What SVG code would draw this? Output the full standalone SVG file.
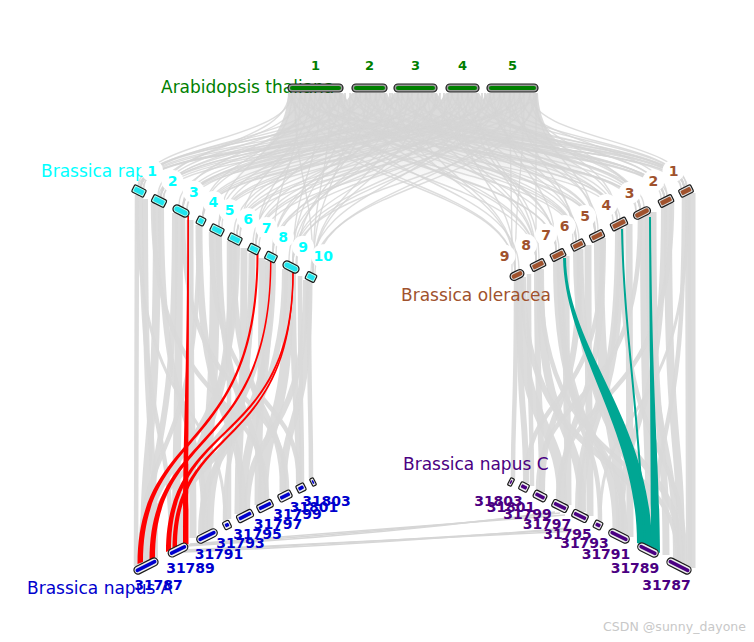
<svg xmlns="http://www.w3.org/2000/svg" width="754" height="642" viewBox="0 0 754 642">
<style>
.lk{fill:none;stroke:#d4d4d4;stroke-width:1.4;opacity:.8}
.rb{fill:none;stroke:#d9d9d9;opacity:.92}
.ab{fill:none;stroke:#d6d6d6;stroke-width:1.5}
.o{stroke:#1a1a1a;stroke-width:1.2}
.at{fill:#008000}
.ra{fill:#1fe3ee}
.ol{fill:#a0522d}
.na{fill:#0000cd}
.nc{fill:#4b0082}
text{font-family:"DejaVu Sans","Liberation Sans",sans-serif}
.t{font-size:17px}
.n{font-size:14px;font-weight:bold;text-anchor:middle}
.an{font-size:13px;font-weight:bold;text-anchor:middle;fill:#008000}
.halo{fill:#fff}
</style>
<defs>
<linearGradient id="fade" x1="0" y1="93" x2="0" y2="185" gradientUnits="userSpaceOnUse">
<stop offset="0" stop-color="#d9d9d9" stop-opacity="1"/>
<stop offset="0.45" stop-color="#d9d9d9" stop-opacity="0.9"/>
<stop offset="1" stop-color="#d9d9d9" stop-opacity="0"/>
</linearGradient>
</defs>
<rect width="754" height="642" fill="#fff"/>

<g id="connectors">
<path d="M288 93 L343 93 L347 100 L352 93 L387 93 L390 100 L394 93 L437 93 L441 100 L446 93 L479 93 L483 100 L487 93 L538 93 C539 125 555 150 600 185 L225 185 C270 150 287 125 288 93 Z" fill="url(#fade)"/>
<g id="at-rapa">
<path class="lk" d="M292 93C292 140 141 140 141 187"/>
<path class="lk" d="M292 93C292 160 219 160 219 226"/>
<path class="lk" d="M300 93C300 145 158 145 158 196"/>
<path class="lk" d="M300 93C300 173 273 173 273 253"/>
<path class="lk" d="M310 93C310 150 183 150 183 207"/>
<path class="lk" d="M310 93C310 165 240 165 240 236"/>
<path class="lk" d="M320 93C320 141 144 141 144 188"/>
<path class="lk" d="M320 93C320 178 293 178 293 263"/>
<path class="lk" d="M330 93C330 155 203 155 203 217"/>
<path class="lk" d="M330 93C330 183 313 183 313 273"/>
<path class="lk" d="M340 93C340 146 164 146 164 198"/>
<path class="lk" d="M340 93C340 169 256 169 256 245"/>
<path class="lk" d="M356 93C356 149 179 149 179 205"/>
<path class="lk" d="M356 93C356 160 222 160 222 227"/>
<path class="lk" d="M366 93C366 140 138 140 138 186"/>
<path class="lk" d="M366 93C366 179 297 179 297 265"/>
<path class="lk" d="M376 93C376 164 234 164 234 234"/>
<path class="lk" d="M376 93C376 145 161 145 161 197"/>
<path class="lk" d="M385 93C385 173 273 173 273 253"/>
<path class="lk" d="M385 93C385 151 187 151 187 209"/>
<path class="lk" d="M398 93C398 140 141 140 141 187"/>
<path class="lk" d="M398 93C398 169 253 169 253 244"/>
<path class="lk" d="M408 93C408 155 203 155 203 217"/>
<path class="lk" d="M408 93C408 177 289 177 289 261"/>
<path class="lk" d="M418 93C418 145 161 145 161 197"/>
<path class="lk" d="M418 93C418 183 313 183 313 273"/>
<path class="lk" d="M428 93C428 160 219 160 219 226"/>
<path class="lk" d="M428 93C428 150 183 150 183 207"/>
<path class="lk" d="M436 93C436 164 237 164 237 235"/>
<path class="lk" d="M436 93C436 174 276 174 276 254"/>
<path class="lk" d="M448 93C448 141 143 141 143 188"/>
<path class="lk" d="M448 93C448 178 293 178 293 263"/>
<path class="lk" d="M458 93C458 151 187 151 187 209"/>
<path class="lk" d="M458 93C458 169 256 169 256 245"/>
<path class="lk" d="M468 93C468 145 159 145 159 196"/>
<path class="lk" d="M468 93C468 183 311 183 311 272"/>
<path class="lk" d="M477 93C477 155 203 155 203 217"/>
<path class="lk" d="M477 93C477 164 237 164 237 235"/>
<path class="lk" d="M490 93C490 160 219 160 219 226"/>
<path class="lk" d="M490 93C490 179 296 179 296 264"/>
<path class="lk" d="M500 93C500 140 141 140 141 187"/>
<path class="lk" d="M500 93C500 173 273 173 273 253"/>
<path class="lk" d="M510 93C510 150 183 150 183 207"/>
<path class="lk" d="M510 93C510 184 315 184 315 274"/>
<path class="lk" d="M520 93C520 146 163 146 163 198"/>
<path class="lk" d="M520 93C520 170 259 170 259 246"/>
<path class="lk" d="M530 93C530 165 240 165 240 236"/>
<path class="lk" d="M530 93C530 155 203 155 203 217"/>
<path class="lk" d="M536 93C536 178 293 178 293 263"/>
<path class="lk" d="M536 93C536 140 139 140 139 186"/>
<path class="lk" d="M295 93C295 183 313 183 313 273"/>
<path class="lk" d="M305 93C305 155 203 155 203 217"/>
<path class="lk" d="M315 93C315 169 256 169 256 245"/>
<path class="lk" d="M325 93C325 145 161 145 161 197"/>
<path class="lk" d="M335 93C335 160 219 160 219 226"/>
<path class="lk" d="M345 93C345 178 293 178 293 263"/>
<path class="lk" d="M360 93C360 140 141 140 141 187"/>
<path class="lk" d="M370 93C370 173 273 173 273 253"/>
<path class="lk" d="M380 93C380 150 183 150 183 207"/>
<path class="lk" d="M390 93C390 164 237 164 237 235"/>
<path class="lk" d="M402 93C402 183 313 183 313 273"/>
<path class="lk" d="M412 93C412 145 161 145 161 197"/>
<path class="lk" d="M422 93C422 169 256 169 256 245"/>
<path class="lk" d="M432 93C432 140 141 140 141 187"/>
<path class="lk" d="M440 93C440 155 203 155 203 217"/>
<path class="lk" d="M452 93C452 160 219 160 219 226"/>
<path class="lk" d="M462 93C462 173 273 173 273 253"/>
<path class="lk" d="M472 93C472 150 183 150 183 207"/>
<path class="lk" d="M482 93C482 178 293 178 293 263"/>
<path class="lk" d="M494 93C494 145 161 145 161 197"/>
<path class="lk" d="M504 93C504 164 237 164 237 235"/>
<path class="lk" d="M514 93C514 155 203 155 203 217"/>
<path class="lk" d="M524 93C524 140 141 140 141 187"/>
<path class="lk" d="M534 93C534 183 313 183 313 273"/>
<path class="lk" d="M289 93C289 145 161 145 161 197"/>
<path class="lk" d="M341 93C341 140 141 140 141 187"/>
<path class="lk" d="M350 93C350 183 313 183 313 273"/>
<path class="lk" d="M392 93C392 178 293 178 293 263"/>
<path class="lk" d="M444 93C444 150 183 150 183 207"/>
<path class="lk" d="M485 93C485 169 256 169 256 245"/>
</g>
<g id="at-oleracea">
<path class="lk" d="M292 93C292 182 515 182 515 271"/>
<path class="lk" d="M292 93C292 157 617 157 617 220"/>
<path class="lk" d="M300 93C300 140 684 140 684 187"/>
<path class="lk" d="M300 93C300 167 576 167 576 241"/>
<path class="lk" d="M310 93C310 151 640 151 640 209"/>
<path class="lk" d="M310 93C310 177 536 177 536 261"/>
<path class="lk" d="M320 93C320 145 664 145 664 197"/>
<path class="lk" d="M320 93C320 172 556 172 556 251"/>
<path class="lk" d="M330 93C330 163 595 163 595 232"/>
<path class="lk" d="M330 93C330 141 681 141 681 188"/>
<path class="lk" d="M340 93C340 156 620 156 620 219"/>
<path class="lk" d="M340 93C340 181 519 181 519 269"/>
<path class="lk" d="M356 93C356 140 684 140 684 187"/>
<path class="lk" d="M356 93C356 152 636 152 636 211"/>
<path class="lk" d="M366 93C366 167 576 167 576 241"/>
<path class="lk" d="M366 93C366 145 667 145 667 196"/>
<path class="lk" d="M376 93C376 177 536 177 536 261"/>
<path class="lk" d="M376 93C376 163 595 163 595 232"/>
<path class="lk" d="M385 93C385 151 640 151 640 209"/>
<path class="lk" d="M385 93C385 172 559 172 559 250"/>
<path class="lk" d="M398 93C398 145 664 145 664 197"/>
<path class="lk" d="M398 93C398 182 515 182 515 271"/>
<path class="lk" d="M408 93C408 157 617 157 617 220"/>
<path class="lk" d="M408 93C408 140 687 140 687 186"/>
<path class="lk" d="M418 93C418 167 579 167 579 240"/>
<path class="lk" d="M418 93C418 150 644 150 644 207"/>
<path class="lk" d="M428 93C428 140 684 140 684 187"/>
<path class="lk" d="M428 93C428 177 536 177 536 261"/>
<path class="lk" d="M436 93C436 163 595 163 595 232"/>
<path class="lk" d="M436 93C436 146 661 146 661 198"/>
<path class="lk" d="M448 93C448 172 556 172 556 251"/>
<path class="lk" d="M448 93C448 151 640 151 640 209"/>
<path class="lk" d="M458 93C458 182 515 182 515 271"/>
<path class="lk" d="M458 93C458 158 613 158 613 222"/>
<path class="lk" d="M468 93C468 141 681 141 681 188"/>
<path class="lk" d="M468 93C468 167 576 167 576 241"/>
<path class="lk" d="M477 93C477 145 664 145 664 197"/>
<path class="lk" d="M477 93C477 177 539 177 539 260"/>
<path class="lk" d="M490 93C490 151 640 151 640 209"/>
<path class="lk" d="M490 93C490 162 598 162 598 231"/>
<path class="lk" d="M500 93C500 172 556 172 556 251"/>
<path class="lk" d="M500 93C500 140 684 140 684 187"/>
<path class="lk" d="M510 93C510 157 617 157 617 220"/>
<path class="lk" d="M510 93C510 183 512 183 512 272"/>
<path class="lk" d="M520 93C520 145 667 145 667 196"/>
<path class="lk" d="M520 93C520 168 573 168 573 242"/>
<path class="lk" d="M530 93C530 152 636 152 636 211"/>
<path class="lk" d="M530 93C530 140 686 140 686 186"/>
<path class="lk" d="M536 93C536 163 595 163 595 232"/>
<path class="lk" d="M536 93C536 177 536 177 536 261"/>
<path class="lk" d="M295 93C295 140 684 140 684 187"/>
<path class="lk" d="M305 93C305 182 515 182 515 271"/>
<path class="lk" d="M315 93C315 151 640 151 640 209"/>
<path class="lk" d="M325 93C325 172 556 172 556 251"/>
<path class="lk" d="M335 93C335 145 664 145 664 197"/>
<path class="lk" d="M345 93C345 163 595 163 595 232"/>
<path class="lk" d="M360 93C360 177 536 177 536 261"/>
<path class="lk" d="M370 93C370 157 617 157 617 220"/>
<path class="lk" d="M380 93C380 140 684 140 684 187"/>
<path class="lk" d="M390 93C390 167 576 167 576 241"/>
<path class="lk" d="M402 93C402 145 664 145 664 197"/>
<path class="lk" d="M412 93C412 182 515 182 515 271"/>
<path class="lk" d="M422 93C422 163 595 163 595 232"/>
<path class="lk" d="M432 93C432 151 640 151 640 209"/>
<path class="lk" d="M440 93C440 172 556 172 556 251"/>
<path class="lk" d="M452 93C452 140 684 140 684 187"/>
<path class="lk" d="M462 93C462 157 617 157 617 220"/>
<path class="lk" d="M472 93C472 177 536 177 536 261"/>
<path class="lk" d="M482 93C482 145 664 145 664 197"/>
<path class="lk" d="M494 93C494 167 576 167 576 241"/>
<path class="lk" d="M504 93C504 151 640 151 640 209"/>
<path class="lk" d="M514 93C514 163 595 163 595 232"/>
<path class="lk" d="M524 93C524 182 515 182 515 271"/>
<path class="lk" d="M534 93C534 157 617 157 617 220"/>
<path class="lk" d="M289 93C289 151 640 151 640 209"/>
<path class="lk" d="M341 93C341 167 576 167 576 241"/>
<path class="lk" d="M350 93C350 145 664 145 664 197"/>
<path class="lk" d="M392 93C392 140 684 140 684 187"/>
<path class="lk" d="M444 93C444 177 536 177 536 261"/>
<path class="lk" d="M485 93C485 140 684 140 684 187"/>
</g>
<g id="rapa-napusA">
<path class="rb" stroke-width="4.5" d="M137 195C137 466 136 418 136 566"/>
<path class="rb" stroke-width="4.5" d="M141 197C141 454 171 408 171 549"/>
<path class="rb" stroke-width="8" d="M157 205C157 466 144 419 144 562"/>
<path class="rb" stroke-width="6" d="M161 207C161 444 205 402 205 532"/>
<path class="rb" stroke-width="8" d="M179 215C179 457 176 414 176 546"/>
<path class="rb" stroke-width="6" d="M175 213C175 466 149 421 149 559"/>
<path class="rb" stroke-width="7" d="M199 225C199 435 243 397 243 512"/>
<path class="rb" stroke-width="4.5" d="M199 225C199 472 140 428 140 564"/>
<path class="rb" stroke-width="10" d="M215 234C215 452 205 413 205 532"/>
<path class="rb" stroke-width="6" d="M219 236C219 430 263 396 263 502"/>
<path class="rb" stroke-width="8" d="M233 243C233 463 180 424 180 544"/>
<path class="rb" stroke-width="6" d="M233 243C233 425 283 392 283 492"/>
<path class="rb" stroke-width="7" d="M252 253C252 454 210 419 210 529"/>
<path class="rb" stroke-width="4.5" d="M252 253C252 449 225 414 225 521"/>
<path class="rb" stroke-width="8" d="M269 261C269 444 243 412 243 512"/>
<path class="rb" stroke-width="4.5" d="M269 261C269 479 147 440 147 560"/>
<path class="rb" stroke-width="10" d="M289 271C289 440 263 410 263 502"/>
<path class="rb" stroke-width="6" d="M293 273C293 427 299 400 299 484"/>
<path class="rb" stroke-width="6" d="M285 269C285 473 172 436 172 548"/>
<path class="rb" stroke-width="7" d="M309 281C309 435 283 408 283 492"/>
<path class="rb" stroke-width="4.5" d="M309 281C309 425 311 399 311 478"/>
<path class="rb" stroke-width="4.5" d="M153 203C153 420 267 381 267 500"/>
<path class="rb" stroke-width="4.5" d="M183 217C183 416 287 381 287 490"/>
<path class="rb" stroke-width="4.5" d="M211 232C211 416 299 383 299 484"/>
<path class="rb" stroke-width="6" d="M237 245C237 476 144 435 144 562"/>
<path class="rb" stroke-width="3" d="M137 195C137 433 225 391 225 521"/>
<path class="rb" stroke-width="6" d="M273 263C273 461 201 426 201 534"/>
<path class="rb" stroke-width="6" d="M306 280C306 448 247 418 247 510"/>
<path class="rb" stroke-width="6" d="M145 199C145 461 155 414 155 558"/>
<path class="rb" stroke-width="7" d="M190 220C190 452 193 411 193 538"/>
<path class="rb" stroke-width="4.5" d="M229 241C229 444 229 408 229 519"/>
<path class="rb" stroke-width="7" d="M262 258C262 438 258 406 258 505"/>
<path class="rb" stroke-width="4.5" d="M300 276C300 426 302 400 302 482"/>
<path class="rb" stroke-width="7" d="M244 248C244 442 238 408 238 514"/>
</g>
<g id="oleracea-napusC">
<path class="rb" stroke-width="6" d="M688 195C688 466 689 418 689 566"/>
<path class="rb" stroke-width="4.5" d="M684 197C684 453 654 408 654 548"/>
<path class="rb" stroke-width="8" d="M668 205C668 466 681 419 681 562"/>
<path class="rb" stroke-width="6" d="M664 207C664 444 621 402 621 532"/>
<path class="rb" stroke-width="8" d="M644 217C644 457 650 414 650 546"/>
<path class="rb" stroke-width="6" d="M648 215C648 466 676 421 676 559"/>
<path class="rb" stroke-width="7" d="M621 228C621 435 582 398 582 512"/>
<path class="rb" stroke-width="4.5" d="M621 228C621 473 685 430 685 564"/>
<path class="rb" stroke-width="10" d="M599 240C599 453 621 415 621 532"/>
<path class="rb" stroke-width="6" d="M603 238C603 431 562 396 562 502"/>
<path class="rb" stroke-width="7" d="M580 249C580 464 646 426 646 544"/>
<path class="rb" stroke-width="6" d="M580 249C580 426 542 395 542 492"/>
<path class="rb" stroke-width="7" d="M560 259C560 456 616 421 616 529"/>
<path class="rb" stroke-width="4.5" d="M560 259C560 450 600 416 600 521"/>
<path class="rb" stroke-width="8" d="M540 269C540 446 582 415 582 512"/>
<path class="rb" stroke-width="4.5" d="M540 269C540 482 678 444 678 561"/>
<path class="rb" stroke-width="10" d="M519 279C519 442 562 413 562 502"/>
<path class="rb" stroke-width="6" d="M519 279C519 428 526 401 526 483"/>
<path class="rb" stroke-width="6" d="M523 277C523 475 654 440 654 548"/>
<path class="rb" stroke-width="6" d="M537 270C537 432 542 403 542 492"/>
<path class="rb" stroke-width="4.5" d="M516 280C516 425 513 399 513 478"/>
<path class="rb" stroke-width="4.5" d="M672 203C672 420 558 381 558 500"/>
<path class="rb" stroke-width="4.5" d="M640 219C640 417 538 382 538 490"/>
<path class="rb" stroke-width="4.5" d="M603 238C603 417 526 385 526 483"/>
<path class="rb" stroke-width="6" d="M576 251C576 478 681 438 681 562"/>
<path class="rb" stroke-width="3" d="M688 195C688 433 600 391 600 521"/>
<path class="rb" stroke-width="6" d="M556 261C556 460 625 425 625 534"/>
<path class="rb" stroke-width="6" d="M618 229C618 434 578 398 578 510"/>
<path class="rb" stroke-width="7" d="M692 193C692 467 692 418 692 568"/>
<path class="rb" stroke-width="7" d="M629 224C629 452 630 412 630 537"/>
<path class="rb" stroke-width="7" d="M588 245C588 443 590 408 590 516"/>
<path class="rb" stroke-width="7" d="M566 256C566 438 568 405 568 505"/>
<path class="rb" stroke-width="4.5" d="M529 274C529 429 532 401 532 486"/>
<path class="rb" stroke-width="7" d="M653 212C653 462 666 418 666 555"/>
</g>
<g id="napusA-napusC">
<path class="ab" d="M188 545Q380 532 560 513"/>
<path class="ab" d="M190 544Q380 530 565 515"/>
<path class="ab" d="M186 546Q380 535 555 512"/>
<path class="ab" d="M182 551Q380 542 572 529"/>
<path class="ab" d="M185 550Q380 540 577 531"/>
<path class="ab" d="M184 552Q380 544 568 528"/>
</g>
<g id="highlight-red" fill="#ff0000">
<path d="M187.3 216C187.3 380 183 420 183 546L188.5 544C188.5 420 189 380 189 216Z"/>
<path d="M256.5 253C256.5 455 137.5 425 137.5 564L143 562C143 425 258.5 455 258.5 253Z"/>
<path d="M270 260C270 455 149.5 425 149.5 560L155 558C155 425 271.5 455 271.5 260Z"/>
<path d="M292.3 271C292.3 450 166 415 166 552L171 550C171 415 293.8 450 293.8 271Z"/>
<path d="M292.5 271C292 455 172.5 420 172.5 549L177 547C177 420 293.6 455 293.6 271Z"/>
</g>
<g id="highlight-teal" fill="#00a693">
<path d="M563 258C565 350 637 430 637 543L652 549C652 420 567 350 566 258Z"/>
<path d="M621 229C623 330 637 400 644 548L646 548C639 400 625 330 623 229Z"/>
<path d="M649 217C650 400 651 450 651 549L660 553C659 450 652 400 651 217Z"/>
</g>
</g>

<g id="labels-species">
<text class="t" x="161" y="93" fill="#008000">Arabidopsis thaliana</text>
<text class="t" x="41" y="177" fill="#00ffff">Brassica rapa</text>
<text class="t" x="401" y="301" fill="#a0522d">Brassica oleracea</text>
<text class="t" x="403" y="470" fill="#4b0082">Brassica napus C</text>
<text class="t" x="27" y="594" fill="#0000cd">Brassica napus A</text>
</g>

<g id="arabidopsis">
<g id="at1"><rect class="o" x="288" y="84" width="55" height="8" rx="4" fill="#9a9a9a"/><rect class="at" x="290" y="86" width="51" height="4" rx="2"/></g>
<g id="at2"><rect class="o" x="352" y="84" width="35" height="8" rx="4" fill="#9a9a9a"/><rect class="at" x="354" y="86" width="31" height="4" rx="2"/></g>
<g id="at3"><rect class="o" x="394" y="84" width="43" height="8" rx="4" fill="#9a9a9a"/><rect class="at" x="396" y="86" width="39" height="4" rx="2"/></g>
<g id="at4"><rect class="o" x="446" y="84" width="33" height="8" rx="4" fill="#9a9a9a"/><rect class="at" x="448" y="86" width="29" height="4" rx="2"/></g>
<g id="at5"><rect class="o" x="487" y="84" width="51" height="8" rx="4" fill="#9a9a9a"/><rect class="at" x="489" y="86" width="47" height="4" rx="2"/></g>
<text class="an" x="315.5" y="69.5">1</text>
<text class="an" x="369.5" y="69.5">2</text>
<text class="an" x="415.5" y="69.5">3</text>
<text class="an" x="462.5" y="69.5">4</text>
<text class="an" x="512.5" y="69.5">5</text>
</g>

<g id="rapa">
<g id="ra1" transform="translate(139 191) rotate(26.6)"><rect class="o" x="-6.5" y="-4" width="13" height="8" rx="1.5" fill="#bfe"/><rect class="ra" x="-5" y="-2.5" width="10" height="5" rx="1"/></g>
<g id="ra2" transform="translate(159 201) rotate(26.6)"><rect class="o" x="-7" y="-4" width="14" height="8" rx="1.5" fill="#bfe"/><rect class="ra" x="-5.5" y="-2.5" width="11" height="5" rx="1"/></g>
<g id="ra3" transform="translate(181 211) rotate(26.6)"><rect class="o" x="-8.5" y="-4" width="17" height="8" rx="4" fill="#bfe"/><rect class="ra" x="-7" y="-2.5" width="14" height="5" rx="2.5"/></g>
<g id="ra4" transform="translate(201 221) rotate(26.6)"><rect class="o" x="-4" y="-4" width="8" height="8" rx="1.5" fill="#bfe"/><rect class="ra" x="-2.5" y="-2.5" width="5" height="5" rx="1"/></g>
<g id="ra5" transform="translate(217 230) rotate(26.6)"><rect class="o" x="-6.5" y="-4" width="13" height="8" rx="1.5" fill="#bfe"/><rect class="ra" x="-5" y="-2.5" width="10" height="5" rx="1"/></g>
<g id="ra6" transform="translate(235 239) rotate(26.6)"><rect class="o" x="-6.5" y="-4" width="13" height="8" rx="1.5" fill="#bfe"/><rect class="ra" x="-5" y="-2.5" width="10" height="5" rx="1"/></g>
<g id="ra7" transform="translate(254 249) rotate(26.6)"><rect class="o" x="-5.5" y="-4" width="11" height="8" rx="1.5" fill="#bfe"/><rect class="ra" x="-4" y="-2.5" width="8" height="5" rx="1"/></g>
<g id="ra8" transform="translate(271 257) rotate(26.6)"><rect class="o" x="-5.5" y="-4" width="11" height="8" rx="1.5" fill="#bfe"/><rect class="ra" x="-4" y="-2.5" width="8" height="5" rx="1"/></g>
<g id="ra9" transform="translate(291 267) rotate(26.6)"><rect class="o" x="-8.5" y="-4" width="17" height="8" rx="4" fill="#bfe"/><rect class="ra" x="-7" y="-2.5" width="14" height="5" rx="2.5"/></g>
<g id="ra10" transform="translate(311 277) rotate(26.6)"><rect class="o" x="-5" y="-4" width="10" height="8" rx="1.5" fill="#bfe"/><rect class="ra" x="-3.5" y="-2.5" width="7" height="5" rx="1"/></g>
<g fill="#00ffff">
<circle class="halo" cx="152" cy="170.5" r="11"/><text class="n" x="152" y="175.5">1</text>
<circle class="halo" cx="172.5" cy="181" r="11"/><text class="n" x="172.5" y="186">2</text>
<circle class="halo" cx="193.8" cy="191.7" r="11"/><text class="n" x="193.8" y="196.7">3</text>
<circle class="halo" cx="213.3" cy="202" r="11"/><text class="n" x="213.3" y="207">4</text>
<circle class="halo" cx="229.5" cy="210" r="11"/><text class="n" x="229.5" y="215">5</text>
<circle class="halo" cx="248" cy="219" r="11"/><text class="n" x="248" y="224">6</text>
<circle class="halo" cx="266.5" cy="228" r="11"/><text class="n" x="266.5" y="233">7</text>
<circle class="halo" cx="283" cy="237" r="11"/><text class="n" x="283" y="242">8</text>
<circle class="halo" cx="303" cy="246.7" r="11"/><text class="n" x="303" y="251.7">9</text>
<circle class="halo" cx="323.3" cy="256.3" r="12"/><text class="n" x="323.3" y="261.3">10</text>
</g>
</g>

<g id="oleracea">
<g id="ol1" transform="translate(686 191) rotate(-26.6)"><rect class="o" x="-6.75" y="-4" width="13.5" height="8" rx="1.5" fill="#ddd"/><rect class="ol" x="-5.25" y="-2.3" width="10.5" height="4.6" rx="1"/></g>
<g id="ol2" transform="translate(666 201) rotate(-26.6)"><rect class="o" x="-7.25" y="-4" width="14.5" height="8" rx="1.5" fill="#ddd"/><rect class="ol" x="-5.75" y="-2.3" width="11.5" height="4.6" rx="1"/></g>
<g id="ol3" transform="translate(642 213) rotate(-26.6)"><rect class="o" x="-9" y="-4" width="18" height="8" rx="4" fill="#ddd"/><rect class="ol" x="-7.5" y="-2.3" width="15" height="4.6" rx="2.3"/></g>
<g id="ol4" transform="translate(619 224) rotate(-26.6)"><rect class="o" x="-8.25" y="-4" width="16.5" height="8" rx="1.5" fill="#ddd"/><rect class="ol" x="-6.75" y="-2.3" width="13.5" height="4.6" rx="1"/></g>
<g id="ol5" transform="translate(597 236) rotate(-26.6)"><rect class="o" x="-7" y="-4" width="14" height="8" rx="1.5" fill="#ddd"/><rect class="ol" x="-5.5" y="-2.3" width="11" height="4.6" rx="1"/></g>
<g id="ol6" transform="translate(578 245) rotate(-26.6)"><rect class="o" x="-6.5" y="-4" width="13" height="8" rx="1.5" fill="#ddd"/><rect class="ol" x="-5" y="-2.3" width="10" height="4.6" rx="1"/></g>
<g id="ol7" transform="translate(558 255) rotate(-26.6)"><rect class="o" x="-7.25" y="-4" width="14.5" height="8" rx="1.5" fill="#ddd"/><rect class="ol" x="-5.75" y="-2.3" width="11.5" height="4.6" rx="1"/></g>
<g id="ol8" transform="translate(538 265) rotate(-26.6)"><rect class="o" x="-7.25" y="-4" width="14.5" height="8" rx="1.5" fill="#ddd"/><rect class="ol" x="-5.75" y="-2.3" width="11.5" height="4.6" rx="1"/></g>
<g id="ol9" transform="translate(517 275) rotate(-26.6)"><rect class="o" x="-7.25" y="-4" width="14.5" height="8" rx="4" fill="#ddd"/><rect class="ol" x="-5.75" y="-2.3" width="11.5" height="4.6" rx="2.3"/></g>
<g fill="#a0522d">
<circle class="halo" cx="673.5" cy="170.8" r="11"/><text class="n" x="673.5" y="175.8">1</text>
<circle class="halo" cx="653.3" cy="181" r="11"/><text class="n" x="653.3" y="186">2</text>
<circle class="halo" cx="629.7" cy="192.8" r="11"/><text class="n" x="629.7" y="197.8">3</text>
<circle class="halo" cx="606.3" cy="205" r="11"/><text class="n" x="606.3" y="210">4</text>
<circle class="halo" cx="585" cy="216" r="11"/><text class="n" x="585" y="221">5</text>
<circle class="halo" cx="564.7" cy="226" r="11"/><text class="n" x="564.7" y="231">6</text>
<circle class="halo" cx="546" cy="234.7" r="11"/><text class="n" x="546" y="239.7">7</text>
<circle class="halo" cx="526" cy="245" r="11"/><text class="n" x="526" y="250">8</text>
<circle class="halo" cx="504.5" cy="255.8" r="11"/><text class="n" x="504.5" y="260.8">9</text>
</g>
</g>

<g id="napusA">
<g id="na87" transform="translate(146 566) rotate(-26.6)"><rect class="o" x="-13" y="-4" width="26" height="8" rx="4" fill="#eee"/><rect class="na" x="-11.5" y="-1.8" width="23" height="3.6" rx="1.8"/></g>
<g id="na89" transform="translate(178 550) rotate(-26.6)"><rect class="o" x="-10.5" y="-4" width="21" height="8" rx="4" fill="#eee"/><rect class="na" x="-9" y="-1.8" width="18" height="3.6" rx="1.8"/></g>
<g id="na91" transform="translate(207 536) rotate(-26.6)"><rect class="o" x="-11" y="-4" width="22" height="8" rx="4" fill="#eee"/><rect class="na" x="-9.5" y="-1.8" width="19" height="3.6" rx="1.8"/></g>
<g id="na93" transform="translate(227 525) rotate(-26.6)"><rect class="o" x="-3.5" y="-4" width="7" height="8" rx="1.5" fill="#eee"/><rect class="na" x="-2" y="-1.8" width="4" height="3.6" rx="1"/></g>
<g id="na95" transform="translate(245 516) rotate(-26.6)"><rect class="o" x="-8.25" y="-4" width="16.5" height="8" rx="2" fill="#eee"/><rect class="na" x="-6.75" y="-1.8" width="13.5" height="3.6" rx="1"/></g>
<g id="na97" transform="translate(265 506) rotate(-26.6)"><rect class="o" x="-8" y="-4" width="16" height="8" rx="2" fill="#eee"/><rect class="na" x="-6.5" y="-1.8" width="13" height="3.6" rx="1"/></g>
<g id="na99" transform="translate(285 496) rotate(-26.6)"><rect class="o" x="-6.75" y="-4" width="13.5" height="8" rx="2" fill="#eee"/><rect class="na" x="-5.25" y="-1.8" width="10.5" height="3.6" rx="1"/></g>
<g id="na01" transform="translate(301 488) rotate(-26.6)"><rect class="o" x="-4.25" y="-4" width="8.5" height="8" rx="1.5" fill="#eee"/><rect class="na" x="-2.75" y="-1.8" width="5.5" height="3.6" rx="1"/></g>
<g id="na03" transform="translate(313 482) rotate(-26.6)"><rect class="o" x="-2" y="-4" width="4" height="8" rx="1" fill="#eee"/><rect class="na" x="-0.8" y="-1.8" width="1.6" height="3.6"/></g>
<g fill="#0000cd">
<text class="n" x="158.5" y="590">31787</text>
<text class="n" x="190.5" y="573">31789</text>
<text class="n" x="219" y="559">31791</text>
<text class="n" x="240.5" y="547.5">31793</text>
<text class="n" x="257.5" y="539">31795</text>
<text class="n" x="278" y="529">31797</text>
<text class="n" x="297.5" y="519">31799</text>
<text class="n" x="314" y="512">31801</text>
<text class="n" x="326.5" y="506">31803</text>
</g>
</g>

<g id="napusC">
<g id="nc87" transform="translate(679 566) rotate(26.6)"><rect class="o" x="-13" y="-4" width="26" height="8" rx="4" fill="#eee"/><rect class="nc" x="-11.5" y="-1.8" width="23" height="3.6" rx="1.8"/></g>
<g id="nc89" transform="translate(648 550) rotate(26.6)"><rect class="o" x="-11" y="-4" width="22" height="8" rx="4" fill="#eee"/><rect class="nc" x="-9.5" y="-1.8" width="19" height="3.6" rx="1.8"/></g>
<g id="nc91" transform="translate(619 536) rotate(26.6)"><rect class="o" x="-11" y="-4" width="22" height="8" rx="4" fill="#eee"/><rect class="nc" x="-9.5" y="-1.8" width="19" height="3.6" rx="1.8"/></g>
<g id="nc93" transform="translate(598 525) rotate(26.6)"><rect class="o" x="-4" y="-4" width="8" height="8" rx="1.5" fill="#eee"/><rect class="nc" x="-2.5" y="-1.8" width="5" height="3.6" rx="1"/></g>
<g id="nc95" transform="translate(580 516) rotate(26.6)"><rect class="o" x="-8" y="-4" width="16" height="8" rx="2" fill="#eee"/><rect class="nc" x="-6.5" y="-1.8" width="13" height="3.6" rx="1"/></g>
<g id="nc97" transform="translate(560 506) rotate(26.6)"><rect class="o" x="-8" y="-4" width="16" height="8" rx="2" fill="#eee"/><rect class="nc" x="-6.5" y="-1.8" width="13" height="3.6" rx="1"/></g>
<g id="nc99" transform="translate(540 496) rotate(26.6)"><rect class="o" x="-6.5" y="-4" width="13" height="8" rx="2" fill="#eee"/><rect class="nc" x="-5" y="-1.8" width="10" height="3.6" rx="1"/></g>
<g id="nc01" transform="translate(524 487) rotate(26.6)"><rect class="o" x="-4.5" y="-4" width="9" height="8" rx="1.5" fill="#eee"/><rect class="nc" x="-3" y="-1.8" width="6" height="3.6" rx="1"/></g>
<g id="nc03" transform="translate(511 482) rotate(26.6)"><rect class="o" x="-2" y="-4" width="4" height="8" rx="1" fill="#eee"/><rect class="nc" x="-0.8" y="-1.8" width="1.6" height="3.6"/></g>
<g fill="#4b0082">
<text class="n" x="666.5" y="590">31787</text>
<text class="n" x="635" y="573">31789</text>
<text class="n" x="606" y="559">31791</text>
<text class="n" x="584.5" y="547.5">31793</text>
<text class="n" x="567.5" y="539">31795</text>
<text class="n" x="547" y="529">31797</text>
<text class="n" x="527.5" y="519">31799</text>
<text class="n" x="511" y="512">31801</text>
<text class="n" x="498.5" y="506">31803</text>
</g>
</g>

<text x="603" y="631" font-family="Liberation Sans, sans-serif" font-size="12.5" fill="#c8c8c8" textLength="143" lengthAdjust="spacing">CSDN @sunny_dayone</text>
</svg>
